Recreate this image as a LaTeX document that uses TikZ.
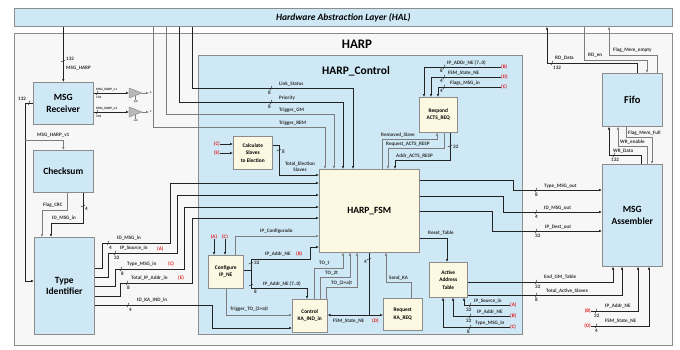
\documentclass[tikz,border=0pt]{standalone}
\usepackage{fontspec}
\setmainfont{Carlito}
\usetikzlibrary{arrows.meta}
\definecolor{bluef}{RGB}{206,232,245}
\definecolor{creamf}{RGB}{253,248,226}
\definecolor{outerf}{RGB}{247,247,247}
\definecolor{edgec}{RGB}{140,140,140}
\definecolor{busc}{RGB}{35,35,35}
\definecolor{sigc}{RGB}{125,125,125}
\definecolor{redl}{RGB}{225,35,35}
\newcounter{lbc}
\newcommand\lb[4][west]{\stepcounter{lbc}\node[lbl,anchor=#1] (lab\arabic{lbc}) at (#2,#3) {#4};}
\newcommand\tkh[2]{\draw[tick] (#1-1,#2+2.2) -- (#1+1,#2-2.2);}
\newcommand\tkv[2]{\draw[tick] (#1-2.2,#2+1) -- (#1+2.2,#2-1);}
\tikzset{
  blk/.style={draw=edgec, fill=bluef, line width=0.6pt, anchor=north west, inner sep=0pt, align=center, font=\fontsize{9.5}{11.5}\selectfont\bfseries},
  sblk/.style={draw=edgec, fill=creamf, line width=0.5pt, anchor=north west, inner sep=0pt, align=center, font=\fontsize{5.4}{7.4}\selectfont\bfseries},
  bus/.style={draw=busc, line width=0.95pt},
  sig/.style={draw=sigc, line width=0.55pt},
  arr/.style={-{Latex[length=3pt,width=2.5pt]}},
  tick/.style={draw=busc, line width=0.45pt},
  lbl/.style={font=\fontsize{5.1}{5.8}\selectfont\bfseries, inner sep=0pt, text=black!80},
  rlbl/.style={lbl, text=redl},
  tiny/.style={font=\fontsize{3.3}{3.7}\selectfont\bfseries, inner sep=0pt, text=black!85},
}
\begin{document}
\begin{tikzpicture}[x=1pt,y=-1pt]
\useasboundingbox (0,0) rectangle (680,349);
% frames
\node[draw=edgec, fill=bluef, line width=0.7pt, minimum width=658pt, minimum height=18pt, anchor=north west, inner sep=0pt, font=\fontsize{9.5}{11}\selectfont\bfseries\itshape] (hal) at (14,8) {Hardware Abstraction Layer (HAL)};
\node[draw=edgec, fill=outerf, line width=0.8pt, minimum width=658pt, minimum height=312pt, anchor=north west, inner sep=0pt] (harp) at (14,33) {};
\node[font=\fontsize{13}{15}\selectfont\bfseries] (harpt) at (357,44) {HARP};
\node[draw=edgec, fill=bluef, line width=0.6pt, minimum width=324pt, minimum height=279pt, anchor=north west, inner sep=0pt] (ctrl) at (198,55) {};
\node[font=\fontsize{11.5}{13}\selectfont\bfseries] (ctrlt) at (356,71) {HARP\_Control};
% blocks
\node[blk, minimum width=60pt, minimum height=42pt] (rcv) at (33,82) {MSG\\Receiver};
\node[blk, minimum width=60pt, minimum height=42pt] (chk) at (33,150) {Checksum};
\node[blk, minimum width=60pt, minimum height=97pt] (tid) at (34,237) {Type\\Identifier};
\node[blk, minimum width=60pt, minimum height=53pt, font=\fontsize{10.5}{12}\selectfont\bfseries] (fifo) at (602,73) {Fifo};
\node[blk, minimum width=60pt, minimum height=102pt] (asm) at (602,164) {MSG\\Assembler};
\node[sblk, minimum width=39pt, minimum height=33pt] (calc) at (233,136) {Calculate\\Slaves\\to Election};
\node[sblk, minimum width=100pt, minimum height=83pt, font=\fontsize{9.5}{11}\selectfont\bfseries] (fsm) at (319,169) {HARP\_FSM};
\node[sblk, minimum width=38pt, minimum height=35pt] (resp) at (419,97) {Respond\\ACTS\_REQ};
\node[sblk, minimum width=35pt, minimum height=33pt] (cfg) at (208,255) {Configure\\IP\_NE};
\node[sblk, minimum width=35pt, minimum height=33pt] (ctl) at (292,299) {Control\\KA\_IND\_in};
\node[sblk, minimum width=39pt, minimum height=32pt] (req) at (383,298) {Request\\KA\_REQ};
\node[sblk, minimum width=38pt, minimum height=35pt] (aat) at (429,262) {Active\\Address\\Table};
% MSG_HARP
\draw[bus,arr] (rcv.north |- hal.south) -- (rcv.north);
\tkv{63}{61} \lb{66}{59}{132} \lb{66}{68}{MSG\_HARP}
% amplifiers
\coordinate (a1in) at (129,93); \coordinate (a1out) at (142,93);
\coordinate (a2in) at (129,112); \coordinate (a2out) at (142,112);
\draw[bus,arr] (rcv.east |- a1in) -- (a1in);
\draw[bus,arr] (rcv.east |- a2in) -- (a2in);
\filldraw[fill=gray!55, draw=gray, line width=0.4pt] (129,88) -- (142,93) -- (129,98) -- cycle;
\filldraw[fill=gray!55, draw=gray, line width=0.4pt] (129,107) -- (142,112) -- (129,117) -- cycle;
\draw[sig,arr] (a1out) -- (149,93);
\draw[sig,arr] (a2out) -- (149,112);
\draw[sig] (135,95.5) -- (135,100); \draw[sig] (135,114.5) -- (135,119);
\node[tiny,anchor=west] (z1) at (150,93) {z};
\node[tiny,anchor=west] (z2) at (150,112) {z};
\node[tiny,anchor=west] (en1) at (134,102) {en};
\node[tiny,anchor=west] (en2) at (134,121) {en};
\node[tiny,anchor=west] (mv1) at (96,90) {MSG\_HARP\_v1};
\node[tiny,anchor=west] (mn1) at (96,97) {132};
\node[tiny,anchor=west] (mv2) at (96,109) {MSG\_HARP\_v2};
\node[tiny,anchor=west] (mn2) at (96,116) {132};
\tkh{97}{93} \tkh{97}{112}
% left 132 bus
\draw[bus,arr] (rcv.west |- 0,103) -- (25,103) -- (25,281) -- (tid.west |- 0,281);
\tkh{29}{103} \lb{18}{99}{132}
\draw[sig,arr] (25,140) -- (chk.north |- 0,140) -- (chk.north);
\lb{37}{135}{MSG\_HARP\_v1}
% checksum outputs
\draw[sig,arr] (chk.south -| 67,0) -- (67,210) -- (42,210) -- (tid.north -| 42,0);
\lb{43}{205}{Flag\_CRC}
\draw[bus,arr] (chk.south -| 83,0) -- (83,223) -- (51,223) -- (tid.north -| 51,0);
\tkv{83}{206} \lb{85}{209}{4} \lb{52}{218.5}{ID\_MSG\_in}
% Type identifier outputs
\draw[bus,arr] (tid.east |- 0,268) -- (102,268) -- (102,243) -- (170,243) -- (170,183) -- (fsm.west |- 0,183);
\draw[bus,arr] (tid.east |- 0,277) -- (108,277) -- (108,253) -- (177,253) -- (177,195) -- (fsm.west |- 0,195);
\draw[bus,arr] (tid.east |- 0,286) -- (115,286) -- (115,269) -- (184,269) -- (184,207) -- (fsm.west |- 0,207);
\draw[bus,arr] (tid.east |- 0,296) -- (120,296) -- (120,283) -- (192,283) -- (192,218) -- (fsm.west |- 0,218);
\draw[bus,arr] (tid.east |- 0,305) -- (212,305) -- (212,328) -- (ctl.west |- 0,328);
\tkh{108}{243} \lb{109}{248}{4} \lb{117}{238.5}{ID\_MSG\_in}
\tkh{115}{253} \lb{114}{258}{32} \lb{120}{248.5}{IP\_Source\_in} \node[rlbl,anchor=west] (ra1) at (157,248.5) {(A)};
\tkh{121}{269} \lb{121}{273.5}{8} \lb{127}{264}{Type\_MSG\_in} \node[rlbl,anchor=west] (rc0) at (168,264) {(C)};
\tkh{127}{283} \lb{127}{287.5}{8} \lb{131}{278}{Total\_IP\_Addr\_in} \node[rlbl,anchor=west] (re0) at (178,278) {(E)};
\tkh{128}{305} \lb{129}{309.5}{4} \lb{137}{300}{ID\_KA\_IND\_in}
% HAL to FSM top
\draw[bus,arr] (hal.south -| 192,0) -- (192,88) -- (353,88) -- (fsm.north -| 353,0);
\draw[bus,arr] (hal.south -| 179,0) -- (179,102) -- (343,102) -- (fsm.north -| 343,0);
\draw[sig,arr] (hal.south -| 166,0) -- (166,114) -- (334,114) -- (fsm.north -| 334,0);
\draw[sig,arr] (hal.south -| 153,0) -- (153,127) -- (325,127) -- (fsm.north -| 325,0);
\tkh{271}{88} \lb{268}{92.5}{8} \lb{279}{84}{Link\_Status}
\tkh{271}{102} \lb{268}{106.5}{8} \lb{279}{98}{Priority}
\lb{279}{110}{Trigger\_GM}
\lb{279}{123}{Trigger\_REM}
% Calculate slaves
\node[rlbl,anchor=east] (rc1) at (220,144) {(C)};
\node[rlbl,anchor=east] (re1) at (220,153) {(E)};
\draw[bus,arr] (rc1.east) -- (calc.west |- rc1.east);
\draw[bus,arr] (re1.east) -- (calc.west |- re1.east);
\draw[bus,arr] (calc.east |- 0,145) -- (279,145) -- (279,175) -- (fsm.west |- 0,175);
\tkv{279}{150} \lb{282}{152}{8}
\node[lbl, align=center] (tes) at (300,167) {Total\_Election\\Slaves};
% Configure IP_NE
\node[rlbl] (ra2) at (214,237) {(A)};
\node[rlbl] (rc2) at (225,237) {(C)};
\draw[bus,arr] (ra2.south) -- (ra2.south |- cfg.north);
\draw[bus,arr] (rc2.south) -- (rc2.south |- cfg.north);
\draw[sig,arr] (cfg.north -| 235,0) -- (235,236) -- (fsm.west |- 0,236);
\lb{260}{231}{IP\_Configurado}
\draw[bus,arr] (cfg.east |- 0,270) -- (251,270) -- (251,259) -- (310,259) -- (310,247) -- (fsm.west |- 0,247);
\draw[bus,arr] (251,270) -- (251,288) -- (307,288) -- (ctl.north -| 307,0);
\tkv{251}{263} \lb{254}{263}{32} \lb{265}{254}{IP\_Addr\_NE} \node[rlbl,anchor=west] (rb0) at (296,254) {(B)};
\tkv{251}{285} \lb{254}{291.5}{8} \lb{263}{283.5}{IP\_Addr\_NE (7..0)}
\draw[sig,arr] (cfg.south -| 226,0) -- (226,315) -- (ctl.west |- 0,315);
\lb{230}{309.5}{Trigger\_TO\_(2+a)t}
% Control KA outputs
\draw[sig,arr] (ctl.north -| 314,0) -- (314,268) -- (343,268) -- (fsm.south -| 343,0);
\draw[sig,arr] (ctl.north -| 320,0) -- (320,277) -- (350,277) -- (fsm.south -| 350,0);
\draw[sig,arr] (ctl.north -| 326,0) -- (326,287) -- (357,287) -- (fsm.south -| 357,0);
\lb{319}{263.5}{TO\_t} \lb{325}{273}{TO\_2t} \lb{331}{283}{TO\_(2+a)t}
% FSM state NE
\draw[bus,{Latex[length=3pt,width=2.5pt]}-{Latex[length=3pt,width=2.5pt]}] (ctl.east |- 0,315) -- (req.west |- 0,315);
\draw[bus] (fsm.south -| 369,0) -- (369,315);
\tkv{369}{259} \lb[east]{367}{262}{4}
\lb{333}{321}{FSM\_State\_NE} \node[rlbl,anchor=west] (rd0) at (372,321) {(D)};
\draw[sig,arr] (req.north -| 411,0) -- (411,282) -- (386,282) -- (fsm.south -| 386,0);
\lb{389}{278.5}{Send\_KA}
% Respond ACTS_REQ
\draw[sig,arr] (fsm.north -| 382,0) -- (382,139) -- (437,139) -- (resp.south -| 437,0);
\draw[sig,arr] (resp.south -| 444,0) -- (444,148) -- (388,148) -- (fsm.north -| 388,0);
\draw[bus,arr] (resp.south -| 450,0) -- (450,160) -- (395,160) -- (fsm.north -| 395,0);
\lb{381}{135}{Removed\_Slave} \lb{386}{144}{Request\_ACTS\_RESP} \lb{396}{156}{Addr\_ACTS\_RESP}
\tkv{450}{146} \lb{453}{147}{32}
\node[rlbl,anchor=west] (rb1) at (501,67) {(B)};
\node[rlbl,anchor=west] (rd1) at (501,77) {(D)};
\node[rlbl,anchor=west] (rc3) at (501,87) {(C)};
\draw[bus,arr] (rb1.west) -- (424,67) -- (resp.north -| 424,0);
\draw[bus,arr] (rd1.west) -- (431,77) -- (resp.north -| 431,0);
\draw[bus,arr] (rc3.west) -- (438,87) -- (resp.north -| 438,0);
\lb{447}{63}{IP\_ADDr\_NE (7..0)} \lb{448}{73}{FSM\_State\_NE} \lb{450}{83}{Flags\_MSG\_in}
\tkh{444}{67} \lb[east]{443}{71}{8}
\tkh{444}{77} \lb[east]{443}{81}{4}
\tkh{444}{87} \lb[east]{443}{91}{4}
% FSM outputs
\draw[bus,arr] (fsm.east |- 0,180) -- (513,180) -- (513,190) -- (asm.west |- 0,190);
\draw[bus,arr] (fsm.east |- 0,196) -- (503,196) -- (503,212) -- (asm.west |- 0,212);
\draw[bus,arr] (fsm.east |- 0,211) -- (492,211) -- (492,231) -- (asm.west |- 0,231);
\tkh{536}{190} \lb{535}{194.5}{8} \lb{544}{186}{Type\_MSG\_out}
\tkh{536}{212} \lb{535}{216.5}{4} \lb{544}{208}{ID\_MSG\_out}
\tkh{536}{231} \lb{535}{235.5}{32} \lb{545}{227}{IP\_Dest\_out}
\draw[bus,arr] (fsm.east |- 0,238) -- (447,238) -- (aat.north -| 447,0);
\lb{428}{233.5}{Reset\_Table}
% Active address table
\draw[bus,arr] (aat.east |- 0,282) -- (613,282) -- (asm.south -| 613,0);
\draw[bus,arr] (aat.east |- 0,295) -- (622,295) -- (asm.south -| 622,0);
\tkh{536}{282} \lb{535}{286.5}{32} \lb{544}{277.5}{End\_GM\_Table}
\tkh{536}{295} \lb{535}{299.5}{8} \lb{546}{291}{Total\_Active\_Slaves}
\node[rlbl,anchor=west] (ra3) at (510,305) {(A)};
\node[rlbl,anchor=west] (rb3) at (510,316) {(B)};
\node[rlbl,anchor=west] (rc4) at (510,327) {(C)};
\draw[bus,arr] (ra3.west) -- (464,305) -- (aat.south -| 464,0);
\draw[bus,arr] (rb3.west) -- (453,316) -- (aat.south -| 453,0);
\draw[bus,arr] (rc4.west) -- (443,327) -- (aat.south -| 443,0);
\lb{474}{301}{IP\_Source\_in} \lb{477}{312}{IP\_Addr\_NE} \lb{475}{323}{Type\_MSG\_in}
\tkh{470}{305} \lb{466}{309.5}{32}
\tkh{470}{316} \lb{466}{320.5}{32}
\tkh{470}{327} \lb{467}{331.5}{8}
% assembler bottom
\node[rlbl,anchor=east] (rb4) at (591,311) {(B)};
\node[rlbl,anchor=east] (rd4) at (591,326) {(D)};
\draw[bus,arr] (rb4.east) -- (638,311) -- (asm.south -| 638,0);
\draw[bus,arr] (rd4.east) -- (649,326) -- (asm.south -| 649,0);
\tkh{596}{311} \lb{594}{315.5}{32} \lb{605}{306.5}{IP\_Addr\_NE}
\tkh{596}{326} \lb{595}{330.5}{4} \lb{605}{321.5}{FSM\_State\_NE}
% Fifo
\draw[bus,arr] (fifo.north -| 637,0) -- (637,63) -- (547,63) -- (hal.south -| 547,0);
\draw[sig,arr] (hal.south -| 584,0) -- (584,60) -- (647,60) -- (fifo.north -| 647,0);
\draw[sig,arr] (fifo.north -| 657,0) -- (657,55) -- (609,55) -- (hal.south -| 609,0);
\tkh{552}{63} \lb{553}{67.5}{132} \lb{555}{58.5}{RD\_Data} \lb{588}{55.5}{RD\_en} \lb{613}{50.5}{Flag\_Mem\_empty}
\draw[bus,arr] (asm.north -| 641,0) -- (641,155) -- (609,155) -- (fifo.south -| 609,0);
\draw[sig,arr] (asm.north -| 647,0) -- (647,146) -- (618,146) -- (fifo.south -| 618,0);
\draw[sig,arr] (fifo.south -| 626,0) -- (626,137) -- (652,137) -- (asm.north -| 652,0);
\tkh{614}{155} \lb{611}{159.5}{132} \lb{613}{151}{WR\_Data} \lb{620}{142}{WR\_enable} \lb{628}{133}{Flag\_Mem\_Full}
\end{tikzpicture}
\end{document}
